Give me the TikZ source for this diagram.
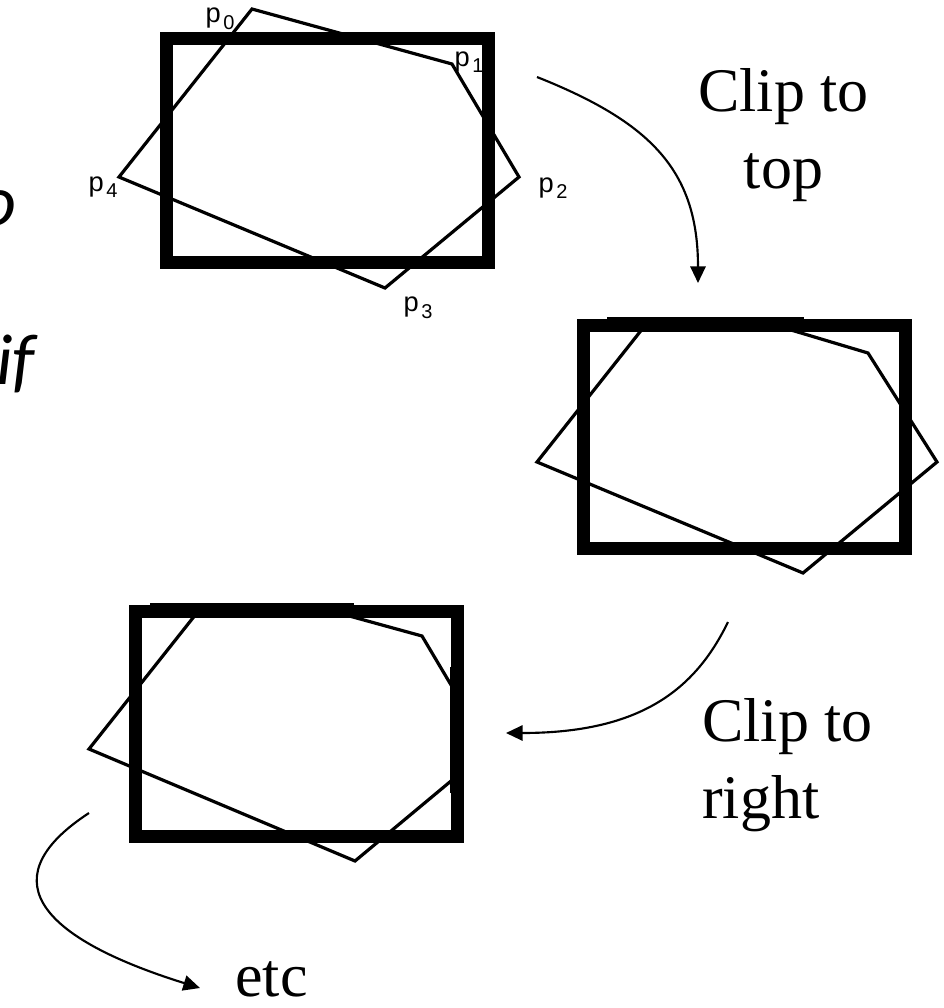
\documentclass[tikz,border=0pt]{standalone}
\usepackage{fontspec}
\setmainfont{Liberation Serif}
\newfontfamily\labfont{Liberation Sans}
\newfontfamily\cutfont{Carlito}
\usetikzlibrary{arrows.meta}
\newcommand\plabel[1]{p\kern2pt\raisebox{-5pt}{\fontsize{15pt}{15pt}\selectfont #1}}
\begin{document}
\begin{tikzpicture}[x=0.75pt,y=-0.75pt,
  frame/.style={line width=9.75pt},
  bar/.style={line width=9.75pt},
  poly/.style={line width=2.4pt, line join=miter},
  flow/.style={line width=1.6pt, -{Triangle[length=12.5pt,width=11.5pt]}},
  plab/.style={font=\labfont\fontsize{20.5pt}{22pt}\selectfont, inner sep=0pt},
  caption/.style={font=\fontsize{46.5pt}{57.75pt}\selectfont, inner sep=0pt},
  cut/.style={font=\cutfont\itshape\fontsize{54pt}{60pt}\selectfont, inner sep=0pt}]
\useasboundingbox (0,0) rectangle (944,1008);

% cut-off text at the left edge
\node[cut, anchor=base east] (cuto) at (17,225) {o};
\node[cut, anchor=base east] (cutif) at (35,384) {if};

% ---- figure 1: original polygon
\draw[poly] (252,9) -- (452,64) -- (519,177) -- (385,288) -- (119,177) -- cycle;
\draw[frame] (166.5,38.5) rectangle (488.5,262);
\node[plab] (p0) at (220,19) {\plabel{0}};
\node[plab] (p1) at (469,62) {\plabel{1}};
\node[plab] (p2) at (553,188) {\plabel{2}};
\node[plab] (p3) at (418,308) {\plabel{3}};
\node[plab] (p4) at (103,187) {\plabel{4}};

% ---- figure 2: clipped to top
\draw[poly] (645,325.5) -- (537,462) -- (803,573) -- (937,462) -- (868,353) -- (776,325.5);
\draw[frame] (583.5,325.5) rectangle (905.5,548.5);
\draw[bar] (607,323.5) -- (804,323.5);

% ---- figure 3: clipped to right
\draw[poly] (198,611.5) -- (89,749) -- (355,861) -- (457,776) -- (457,695) -- (422,636) -- (333,611.5);
\draw[frame] (135.5,611.5) rectangle (457,836.5);
\draw[bar] (150,609.5) -- (354,609.5);
\draw[bar] (456.5,667) -- (456.5,793);

% ---- captions
\node[caption, anchor=north west, align=center] (ctop) at (698,68) {Clip to\\top};
\node[caption, anchor=north west, align=left] (cright) at (702,698) {Clip to\\right};
\node[caption, anchor=base west] (etc) at (235,996) {etc};

% ---- arrows
\coordinate (a1s) at (537,77);
\coordinate (a1e) at (698,283);
\coordinate (a2s) at (728,622);
\coordinate (a2e) at (506,733);
\coordinate (a3s) at (89,813);
\coordinate (a3e) at (200,988);
\draw[flow] (a1s) .. controls (650,122) and (698,170) .. (a1e);
\draw[flow] (a2s) .. controls (695,690) and (640,733) .. (a2e);
\draw[flow] (a3s) .. controls (-6,875) and (30,935) .. (a3e);
\end{tikzpicture}
\end{document}
